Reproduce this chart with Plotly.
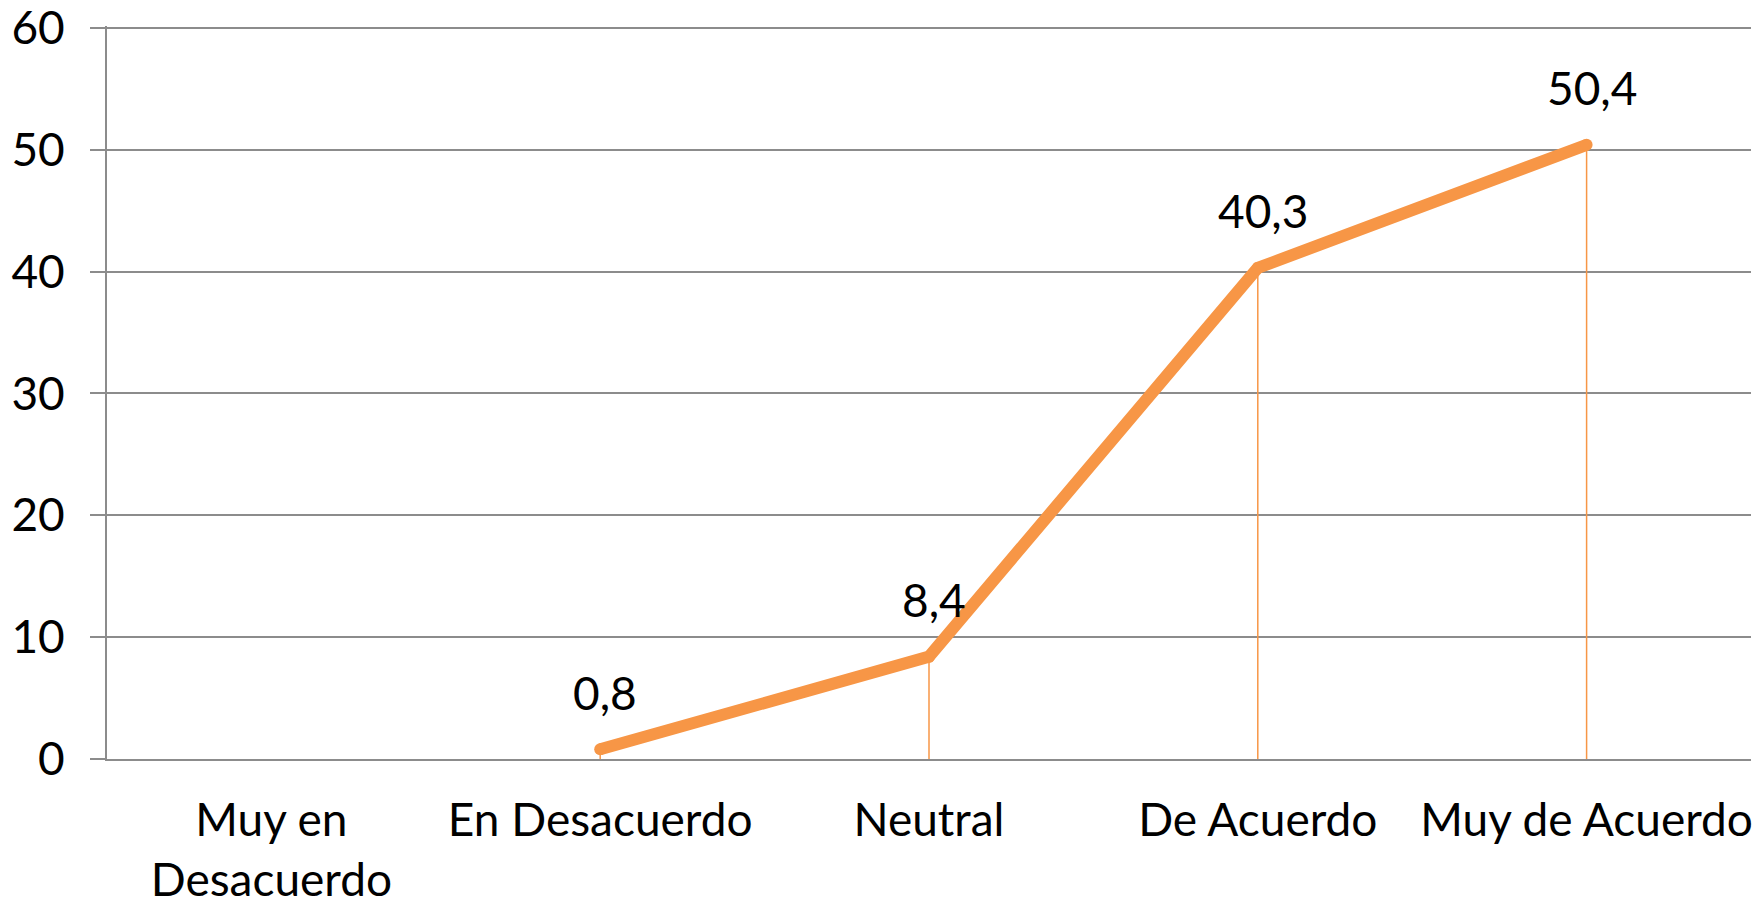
import plotly.graph_objects as go

categories = ["Muy en<br>Desacuerdo", "En Desacuerdo", "Neutral", "De Acuerdo", "Muy de Acuerdo"]
values = [None, 0.8, 8.4, 40.3, 50.4]
labels = ["", "0,8", "8,4", "40,3", "50,4"]
y_ticks = [0, 10, 20, 30, 40, 50, 60]

ORANGE = "#F79646"
GRID = "#8C8C8C"
FONT = "Lato"
FS = 46

fig = go.Figure()

fig.add_trace(go.Scatter(
    x=categories, y=values, mode="lines+markers",
    line=dict(color=ORANGE, width=12),
    marker=dict(color=ORANGE, size=12, line=dict(width=0)),
    error_y=dict(type="data", symmetric=False,
                 array=[0 if v is not None else None for v in values],
                 arrayminus=[v for v in values],
                 color=ORANGE, thickness=1.5, width=0),
    connectgaps=False, hoverinfo="skip", showlegend=False,
    cliponaxis=False,
))

for c, v, t in zip(categories, values, labels):
    if v is None:
        continue
    fig.add_annotation(x=c, y=v, text=t, showarrow=False,
                       xanchor="center", yanchor="middle",
                       xshift=5, yshift=57,
                       font=dict(family=FONT, size=FS, color="#000000"))

fig.update_layout(
    width=1756, height=892,
    margin=dict(l=99, r=13, t=18, b=141),
    paper_bgcolor="white", plot_bgcolor="white",
    font=dict(family=FONT, size=FS, color="#000000"),
    showlegend=False,
)

fig.update_xaxes(
    type="category", categoryorder="array", categoryarray=categories,
    range=[-0.5, 4.5], showgrid=False, showline=True, linecolor=GRID, linewidth=2,
    ticks="", tickfont=dict(family=FONT, size=FS, color="#000000"),
    ticklabelstandoff=20, ticklabeloverflow="allow",
    zeroline=False, automargin=False,
)
fig.update_yaxes(
    range=[0, 60.15], tickvals=y_ticks, ticktext=[str(v) for v in y_ticks],
    showgrid=True, gridcolor=GRID, gridwidth=2,
    showline=True, linecolor=GRID, linewidth=2,
    ticks="outside", ticklen=15, tickcolor=GRID, tickwidth=2,
    ticklabelstandoff=16, ticklabeloverflow="allow",
    tickfont=dict(family=FONT, size=FS, color="#000000"),
    zeroline=False, automargin=False,
)

fig.write_html("out.html")
